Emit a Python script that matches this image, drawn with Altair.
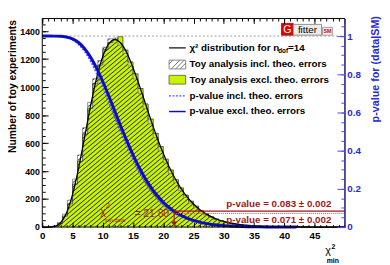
import math
import altair as alt
import numpy as np
import pandas as pd

# ---------------- data ----------------
N_BINS = 60
X_MAX = 50.0
excl_counts = [0, 0, 5, 25, 78, 166, 307, 470, 665, 848,
               1025, 1158, 1268, 1318, 1340, 1360, 1265, 1180, 1095, 990,
               880, 772, 670, 575, 485, 408, 338, 280, 228, 185,
               150, 118, 95, 74, 58, 45, 35, 27, 21, 16,
               12, 9, 7, 5, 4, 3, 2, 2, 1, 1,
               0, 0, 0, 0, 0, 0, 0, 0, 0, 0]
incl_counts = [0, 1, 7, 32, 92, 192, 342, 515, 710, 890,
               1060, 1190, 1285, 1345, 1350, 1300, 1240, 1150, 1058, 955,
               845, 738, 638, 545, 458, 383, 316, 260, 212, 171,
               138, 110, 87, 68, 53, 41, 32, 25, 19, 14,
               11, 8, 6, 4, 3, 2, 2, 1, 1, 0,
               0, 0, 0, 0, 0, 0, 0, 0, 0, 0]
chi2_x = list(range(0, 51))
chi2_y = [0, 0.1, 4.3, 29, 100, 232, 420, 643, 869, 1068, 1219,
          1309, 1339, 1313, 1242, 1139, 1018, 888, 759, 637, 526,
          427, 343, 271, 212, 165, 126, 96, 73, 54, 40,
          30, 22, 16, 12, 8.4, 6, 4.3, 3.1, 2.2, 1.5,
          1.1, 0.8, 0.5, 0.4, 0.2, 0.2, 0.1, 0.1, 0.1, 0]
p_x = list(range(0, 43))
p_excl = [1.0, 1.0, 0.9999, 0.9994, 0.9955, 0.9858, 0.9665, 0.9347, 0.8893, 0.8311,
          0.7622, 0.686, 0.6063, 0.5265, 0.4497, 0.3782, 0.3134, 0.2562, 0.2068, 0.165,
          0.1301, 0.1016, 0.0786, 0.0605, 0.0458, 0.0346, 0.0259, 0.0192, 0.0142, 0.0104,
          0.0076, 0.0055, 0.004, 0.0029, 0.0021, 0.0015, 0.001, 0.0007, 0.0005, 0.0004,
          0.0003, 0.0002, 0.0001]
p_incl = [1.0, 1.0, 0.9998, 0.999, 0.9935, 0.981, 0.957, 0.92, 0.868, 0.804,
          0.732, 0.654, 0.574, 0.495, 0.42, 0.351, 0.29, 0.236, 0.189, 0.15,
          0.118, 0.091, 0.07, 0.054, 0.041, 0.031, 0.023, 0.017, 0.0125, 0.009,
          0.0066, 0.0048, 0.0035, 0.0025, 0.0018, 0.0013, 0.0009, 0.0006, 0.0004, 0.0003,
          0.0002, 0.0001, 0.0001]
chi2_min_data = 21.8
pvalue_levels = [0.083, 0.071]
pvalue_texts = ["p-value = 0.083 ± 0.002", "p-value = 0.071 ± 0.002"]
annot_texts = ["χ", "2", "min,data", "= 21.80"]
legend_labels = ["χ² distribution for n", "Toy analysis incl. theo. errors",
                 "Toy analysis excl. theo. errors", "p-value incl. theo. errors",
                 "p-value excl. theo. errors"]
legend_extra = ["dof", "=14"]
x_title_parts = ["χ", "2", "min"]
y_title = "Number of toy experiments"
y2_title = "p-value for (data|SM)"
logo_texts = ["G", "fitter", "SM"]
x_major = list(range(0, 51, 5))
x_minor = list(range(0, 51))
yc_major = list(range(0, 1401, 200))
yc_minor = list(range(0, 1451, 50))
yp_major = [0, 0.2, 0.4, 0.6, 0.8, 1]
yp_minor = [round(0.05 * i, 2) for i in range(22)]

# ---------------- styling ----------------
W, H = 309, 213
FONT = "Liberation Sans"
GREEN = "#c9f400"
DARKRED = "#a01818"
BLUE_AX = "#4b4bf0"
BLUE_TXT = "#2a2ad8"
BLUE_LINE = "#0c0cc8"
BLUE_DOT = "#5050ff"

XS = alt.Scale(domain=[0, 50], nice=False, zero=False)
YC = alt.Scale(domain=[0, 1490], nice=False, zero=False)
YP = alt.Scale(domain=[0, 1.092], nice=False, zero=False)

edges = [i * X_MAX / N_BINS for i in range(N_BINS + 1)]
hist = pd.DataFrame({"x": edges,
                     "excl": excl_counts + [excl_counts[-1]],
                     "incl": incl_counts + [incl_counts[-1]]})
hist["top"] = hist[["excl", "incl"]].max(axis=1)
curve = pd.DataFrame({"x": chi2_x, "c": chi2_y})
pcurves = pd.DataFrame({"x": p_x, "pe": p_excl, "pi": p_incl})
DUMMY = pd.DataFrame({"d": [0]})

# hatch pattern (styling only): diagonal lines clipped to plot, masked above histogram
px_per_x = W / 50.0
run_x = (H / math.tan(math.radians(40))) / px_per_x
step_x = 5.5 / px_per_x
starts = np.arange(-run_x, 50 + step_x, step_x)
hatch_df = pd.DataFrame({"x": starts, "x2": starts + run_x, "y": 0.0, "y2": 1490.0})


def tick_axis(orient, values, size, color="black", labels=False, **kw):
    args = dict(orient=orient, values=values, tickSize=size, offset=-size,
                domain=False, grid=False, labels=labels, tickColor=color,
                tickWidth=1, zindex=1, title=None)
    args.update(kw)
    return alt.Axis(**args)


ax_bottom_major = tick_axis("bottom", x_major, 5, labels=True, labelColor="black",
                            labelPadding=4, labelFlush=False, labelOverlap=False,
                            labelExpr="datum.value == 50 ? '' : datum.label",
                            labelFont=FONT, labelFontWeight="bold", labelFontSize=10)
ax_bottom_minor = tick_axis("bottom", x_minor, 2.5)
ax_top_major = tick_axis("top", x_major, 5)
ax_top_minor = tick_axis("top", x_minor, 2.5)
ax_left_major = tick_axis("left", yc_major, 6, labels=True, format="d", labelColor="black",
                          labelPadding=3, labelFlush=False, labelOverlap=False,
                          labelFont=FONT, labelFontWeight="bold", labelFontSize=9,
                          title=y_title, titleFont=FONT, titleFontWeight="bold",
                          titleFontSize=10.5, titleColor="black", titleX=-41, titleY=1,
                          titleAngle=270, titleAlign="right", titleBaseline="top")
ax_left_minor = tick_axis("left", yc_minor, 3)
ax_right_major = tick_axis("right", yp_major, 8, color=BLUE_AX, labels=True,
                           labelColor=BLUE_TXT, labelPadding=2, labelFlush=False,
                           labelOverlap=False,
                           labelFont=FONT, labelFontWeight="bold", labelFontSize=10,
                           labelExpr="datum.value == 0 ? '0' : datum.value == 1 ? '1' : format(datum.value, '.1f')",
                           title=y2_title, titleFont=FONT, titleFontWeight="bold",
                           titleFontSize=11, titleColor=BLUE_TXT, titleX=33, titleY=-3,
                           titleAngle=270, titleAlign="right", titleBaseline="top")
ax_right_minor = tick_axis("right", yp_minor, 4, color=BLUE_AX)
ax_right_domain = alt.Axis(orient="right", domain=True, domainColor=BLUE_AX, domainWidth=1.3,
                           ticks=False, labels=False, grid=False, title=None, zindex=2)


def X(field, axis=None):
    return alt.X(field, type="quantitative", scale=XS, axis=axis)


def YCnt(field, axis=None):
    return alt.Y(field, type="quantitative", scale=YC, axis=axis)


def YPv(field, axis=None):
    return alt.Y(field, type="quantitative", scale=YP, axis=axis)


layers = []
# histograms
layers.append(alt.Chart(hist).mark_area(interpolate="step-after", color=GREEN)
              .encode(x=X("x", ax_bottom_major), y=YCnt("excl", ax_left_major)))
layers.append(alt.Chart(hatch_df).mark_rule(clip=True, color="#111111", strokeWidth=0.9)
              .encode(x=X("x"), x2="x2:Q", y=YCnt("y"), y2="y2:Q"))
layers.append(alt.Chart(hist).mark_area(interpolate="step-after", color="white")
              .encode(x=X("x", ax_bottom_minor), y=YCnt("top", ax_left_minor), y2=alt.datum(1490)))
layers.append(alt.Chart(hist).mark_area(interpolate="step-after", color=GREEN)
              .encode(x=X("x"), y=YCnt("incl"), y2="top:Q"))
layers.append(alt.Chart(hist).mark_line(interpolate="step-after", color="#7a7a7a", strokeWidth=0.8)
              .encode(x=X("x", ax_top_major), y=YCnt("incl")))
layers.append(alt.Chart(hist).mark_line(interpolate="step-after", color="#2a2a2a", strokeWidth=0.7)
              .encode(x=X("x", ax_top_minor), y=YCnt("excl")))
layers.append(alt.Chart(curve).mark_line(interpolate="monotone", color="black", strokeWidth=1.3)
              .encode(x=X("x"), y=YCnt("c")))

# p-value curves
p1 = pd.DataFrame({"x": [0, 50], "p": [1, 1]})
layers.append(alt.Chart(p1).mark_line(color="#9a9a9a", strokeDash=[2, 2], strokeWidth=1)
              .encode(x=X("x"), y=YPv("p", ax_right_major)))
layers.append(alt.Chart(pcurves).mark_line(interpolate="monotone", color=BLUE_DOT,
                                           strokeDash=[2, 1.5], strokeWidth=1.8)
              .encode(x=X("x"), y=YPv("pi", ax_right_minor)))
layers.append(alt.Chart(pcurves).mark_line(interpolate="monotone", color=BLUE_LINE, strokeWidth=3)
              .encode(x=X("x"), y=YPv("pe", ax_right_domain)))

# data chi2 marker and p-value lines
red_solid = pd.DataFrame({"x": [chi2_min_data], "x2": [50], "p": [pvalue_levels[0]]})
red_dot = pd.DataFrame({"x": [chi2_min_data], "x2": [50], "p": [pvalue_levels[1]]})
layers.append(alt.Chart(red_dot).mark_rule(color="#d05a5a", strokeDash=[1, 1], strokeWidth=1.2)
              .encode(x=X("x"), x2="x2:Q", y=YPv("p")))
layers.append(alt.Chart(red_solid).mark_rule(color=DARKRED, strokeWidth=1.2)
              .encode(x=X("x"), x2="x2:Q", y=YPv("p")))
arrow = pd.DataFrame({"x": [chi2_min_data], "p": [pvalue_levels[0]], "p2": [0.02]})
layers.append(alt.Chart(arrow).mark_rule(color=DARKRED, strokeWidth=1.2)
              .encode(x=X("x"), y=YPv("p"), y2="p2:Q"))
head = pd.DataFrame({"x": [chi2_min_data], "p": [0.016]})
layers.append(alt.Chart(head).mark_point(shape="triangle-down", filled=True, size=38,
                                         color=DARKRED, opacity=1)
              .encode(x=X("x"), y=YPv("p")))


def txt(label, x, y, size=10, color="black", weight="bold", align="left", baseline="middle"):
    return (alt.Chart(DUMMY)
            .mark_text(align=align, baseline=baseline, font=FONT, fontSize=size,
                       fontWeight=weight, color=color)
            .encode(x=alt.value(x), y=alt.value(y), text=alt.value(label)))


def rule(x1, y1, x2, y2, color, width=1.0, dash=None):
    kw = dict(color=color, strokeWidth=width)
    if dash:
        kw["strokeDash"] = dash
    return (alt.Chart(DUMMY).mark_rule(**kw)
            .encode(x=alt.value(x1), y=alt.value(y1), x2=alt.value(x2), y2=alt.value(y2)))


def box(x1, y1, x2, y2, fill, stroke, width=0.8):
    return (alt.Chart(DUMMY).mark_rect(fill=fill, stroke=stroke, strokeWidth=width)
            .encode(x=alt.value(x1), y=alt.value(y1), x2=alt.value(x2), y2=alt.value(y2)))


# annotations
layers.append(txt(annot_texts[0], 59.3, 198, 11, DARKRED, "normal"))
layers.append(txt(annot_texts[1], 65.0, 192, 7, DARKRED, "normal"))
layers.append(txt(annot_texts[2], 63.5, 205.5, 5.5, DARKRED, "normal"))
layers.append(txt(annot_texts[3], 129.5, 200, 10.5, DARKRED, "normal", align="right"))
layers.append(txt(pvalue_texts[0], 295.3, 190, 10, DARKRED, align="right"))
layers.append(txt(pvalue_texts[1], 295.3, 206, 10, DARKRED, align="right"))

# frame
layers.append(alt.Chart(DUMMY).mark_rect(fillOpacity=0, stroke="black", strokeWidth=1)
              .encode(x=alt.value(0), y=alt.value(0), x2=alt.value(W), y2=alt.value(H)))

# legend
lx1, lx2, tx = 129.5, 146.5, 150.3
rows = [30, 47, 62.5, 79, 95]
layers.append(rule(lx1, rows[0], lx2, rows[0], "black", 1.2))
layers.append(box(lx1, 42.5, lx2, 51.5, "white", "#707070"))
layers.append(rule(lx1, 46.5, 133.4, 42.5, "#555555", 0.8))
layers.append(rule(131.7, 51.5, 140.5, 42.5, "#555555", 0.8))
layers.append(rule(136.2, 51.5, 145.0, 42.5, "#555555", 0.8))
layers.append(rule(140.7, 51.5, lx2, 45.6, "#555555", 0.8))
layers.append(box(lx1, 58, lx2, 67, GREEN, "#555555"))
layers.append(rule(lx1, rows[3], lx2, rows[3], BLUE_DOT, 1.3, [2, 1.5]))
layers.append(rule(lx1, rows[4], lx2, rows[4], BLUE_LINE, 1.5))
for lbl, ry in zip(legend_labels, rows):
    layers.append(txt(lbl, tx, ry, 10))
layers.append(txt(legend_extra[0], 241.0, 33.5, 6.5))
layers.append(txt(legend_extra[1], 251.0, rows[0], 10))

# Gfitter logo
layers.append(box(244.3, 5, 256.3, 17, "#e10000", "#b00000"))
layers.append(txt(logo_texts[0], 250.3, 11.3, 11, "white", "normal", align="center"))
layers.append(box(256.3, 6, 285.3, 17, "#ececec", "#777777"))
layers.append(txt(logo_texts[1], 270.8, 11.8, 10, "black", "normal", align="center"))
layers.append(box(286.3, 9, 296.3, 17, "#f4f4f4", "#888888"))
layers.append(txt(logo_texts[2], 291.3, 13.2, 5.5, "#e00000", "bold", align="center"))

# x axis title  chi^2_min
layers.append(txt(x_title_parts[0], 289.0, 238, 11, "black", "normal"))
layers.append(txt(x_title_parts[1], 295.5, 233, 7, "black", "bold"))
layers.append(txt(x_title_parts[2], 290.5, 247.5, 7, "black", "bold"))

chart = (alt.layer(*layers)
         .resolve_scale(x="independent", y="independent")
         .properties(width=W, height=H,
                     autosize=alt.AutoSizeParams(type="none"),
                     padding={"left": 35, "top": 8, "right": 38, "bottom": 36})
         .configure_view(stroke=None))

chart.save("out.html", embed_options={"renderer": "svg", "actions": False})
